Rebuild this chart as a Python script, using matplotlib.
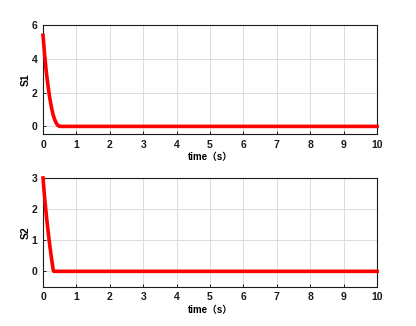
import matplotlib
matplotlib.use("Agg")
import matplotlib.pyplot as plt

t1 = [0, 0.05, 0.1, 0.15, 0.2, 0.25, 0.3, 0.35, 0.4, 0.45, 0.5, 0.55, 1, 2, 3, 4, 5, 6, 7, 8, 9, 10]
s1 = [5.4, 4.2, 3.2, 2.4, 1.7, 1.15, 0.7, 0.4, 0.18, 0.05, 0.0, 0.0, 0, 0, 0, 0, 0, 0, 0, 0, 0, 0]
t2 = [0, 0.05, 0.1, 0.15, 0.2, 0.25, 0.3, 0.32, 1, 2, 3, 4, 5, 6, 7, 8, 9, 10]
s2 = [3.0, 2.35, 1.8, 1.3, 0.85, 0.45, 0.08, 0.0, 0, 0, 0, 0, 0, 0, 0, 0, 0, 0]
xticks = list(range(0, 11))
yticks1 = [0, 2, 4, 6]
yticks2 = [0, 1, 2, 3]
xlabel = "time（s）"

plt.rcParams['font.family'] = ['Liberation Sans', 'Noto Sans CJK SC', 'DejaVu Sans']
plt.rcParams['font.weight'] = 'bold'

fig = plt.figure(figsize=(4.16, 3.26), dpi=100)
ax1 = fig.add_axes([0.1034, 0.589, 0.803, 0.334])
ax2 = fig.add_axes([0.1034, 0.120, 0.803, 0.334])

for ax, t, s, yt, lab, yl in [(ax1, t1, s1, yticks1, "S1", (-0.45, 6)),
                               (ax2, t2, s2, yticks2, "S2", (-0.5, 3))]:
    ax.plot(t, s, color='#ff0000', lw=2.6, solid_joinstyle='round', clip_on=False, zorder=3)
    ax.set_xlim(0, 10)
    ax.set_ylim(*yl)
    ax.set_xticks(xticks)
    ax.set_yticks(yt)
    ax.grid(True, color='#dcdcdc', lw=0.7)
    ax.set_axisbelow(True)
    ax.tick_params(direction='in', length=2.5, width=0.7, labelsize=7.5, pad=4,
                   top=False, right=False, colors='#1a1a1a')
    for lbl in ax.get_xticklabels() + ax.get_yticklabels():
        lbl.set_fontweight('bold')
    for sp in ax.spines.values():
        sp.set_linewidth(0.8)
        sp.set_color('#1a1a1a')
    ax.set_xlabel(xlabel, fontsize=7, fontweight='bold', labelpad=2,
                  family=['Liberation Sans', 'Noto Sans CJK SC'])
    ax.set_ylabel(lab, fontsize=7.5, fontweight='bold', labelpad=1)

fig.savefig("out.png", dpi=100)
